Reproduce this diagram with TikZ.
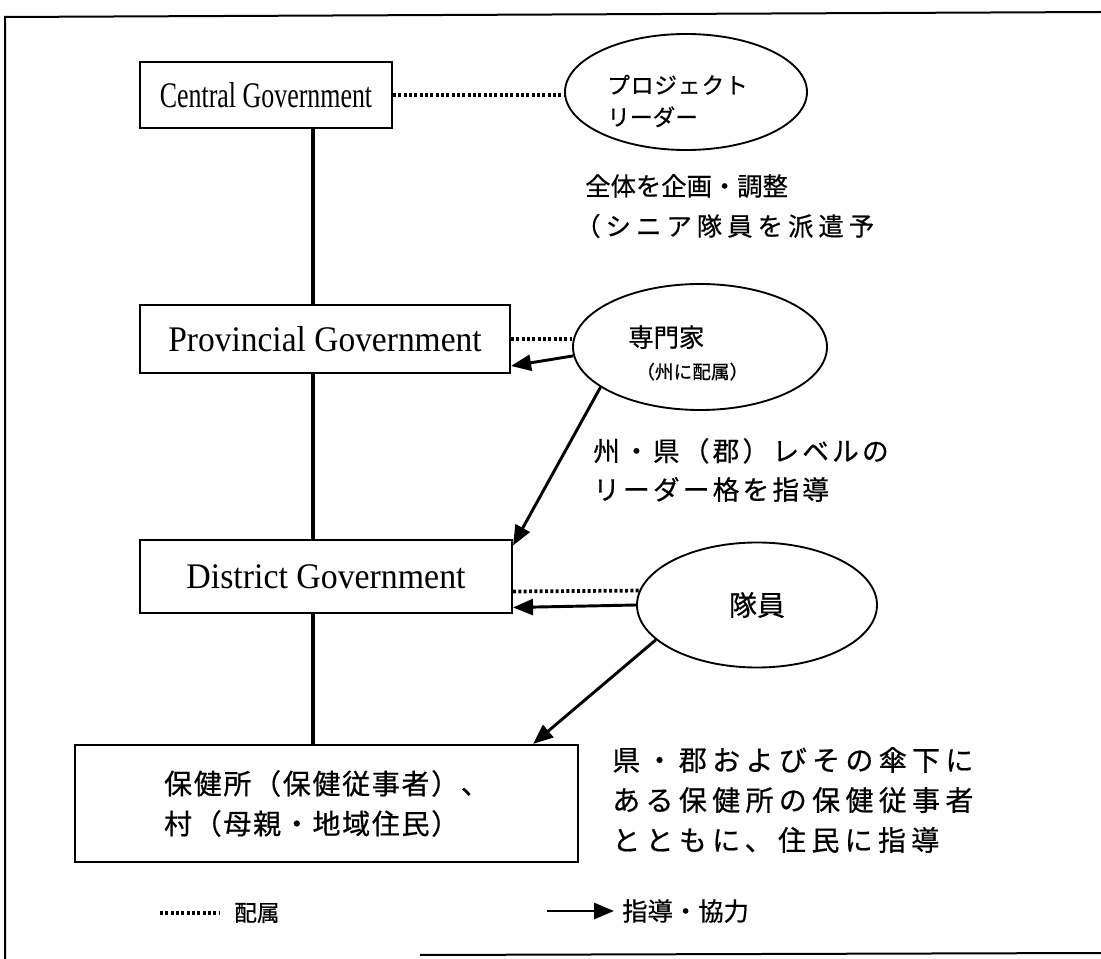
\documentclass[tikz,border=0pt]{standalone}
\usepackage{fontspec}
\usepackage{graphicx}
\setmainfont{Liberation Serif}
\newfontfamily\jp[FakeBold=0.6]{Noto Sans CJK JP}
\usetikzlibrary{arrows.meta,shapes.geometric,calc}
\tikzset{
  box/.style={draw, line width=1.6pt, inner sep=0pt},
  oval/.style={draw, ellipse, line width=1.4pt, inner sep=0pt},
  spine/.style={line width=2.4pt},
  dots/.style={line width=2.8pt, dash pattern=on 2.2pt off 1.8pt},
  guide/.style={line width=2.2pt, -{Triangle[length=15pt,width=12pt]}},
  frameline/.style={line width=1.5pt},
  lat/.style={font=\fontsize{27}{30}\selectfont},
  jtxt/.style={font=\jp\fontsize{19}{22}\selectfont, anchor=west, inner sep=0pt, align=left},
}
\begin{document}
\begin{tikzpicture}[x=0.75pt,y=-0.75pt]
\useasboundingbox (0,0) rectangle (1101,959);
\fill[white] (0,0) rectangle (1101,959);
% frame
\draw[frameline] (5,959) -- (5,17) -- (1101,12);
\draw[frameline] (420,955) -- (1101,953);

% spine position
\coordinate (spine) at (313,0);

% boxes
\node[box, lat, minimum width=189pt, minimum height=49.5pt] (cent) at (266,95) {\scalebox{0.72}[1]{Central Government}};
\node[box, lat, minimum width=277.5pt, minimum height=51pt] (prov) at (325,339) {\scalebox{0.93}[1]{Provincial Government}};
\node[box, lat, minimum width=279pt, minimum height=54.75pt] (dist) at (326,576.5) {\scalebox{0.94}[1]{District Government}};
\node[box, minimum width=377.25pt, minimum height=87.75pt, align=left,
      font=\jp\fontsize{21}{30}\selectfont] (bot) at (326.5,803.5) {\addfontfeatures{LetterSpace=6}保健所（保健従事者）、\\\addfontfeatures{LetterSpace=6}村（母親・地域住民）};

% ellipses
\node[oval, minimum width=181.5pt, minimum height=87pt] (pl) at (686,92) {};
\node[jtxt, font=\jp\fontsize{17}{24}\selectfont] (plt) at (607,101) {\addfontfeatures{LetterSpace=4}プロジェクト\\リーダー};
\node[oval, minimum width=190.5pt, minimum height=94.5pt] (exp) at (700,347) {};
\node[jtxt, font=\jp\fontsize{19}{24}\selectfont] (expt) at (628,353) {専門家\\\hspace*{6pt}{\fontsize{14}{15}\selectfont （州に配属）}};
\node[oval, minimum width=180pt, minimum height=93.75pt, font=\jp\fontsize{21}{24}\selectfont] (tm) at (757,605) {隊員};

% notes
\node[jtxt] (n1a) at (585,186) {全体を企画・調整};
\node[jtxt] (n1b) at (575,226) {\addfontfeatures{LetterSpace=20}（シニア隊員を派遣予};
\node[jtxt, font=\jp\fontsize{20}{29}\selectfont] (n2) at (593,470) {\addfontfeatures{LetterSpace=12}州・県（郡）レベルの\\\addfontfeatures{LetterSpace=12}リーダー格を指導};
\node[jtxt, font=\jp\fontsize{21}{30}\selectfont] (n3) at (612,800) {\addfontfeatures{LetterSpace=19}県・郡およびその傘下に\\\addfontfeatures{LetterSpace=19}ある保健所の保健従事者\\\addfontfeatures{LetterSpace=19}とともに、住民に指導};

% hierarchy line
\draw[spine] (cent.south -| spine) -- (prov.north -| spine);
\draw[spine] (prov.south -| spine) -- (dist.north -| spine);
\draw[spine] (dist.south -| spine) -- (bot.north -| spine);

% assignment (dotted)
\draw[dots] (cent.east) -- (cent.east -| pl.west);
\draw[dots] (prov.east) -- (prov.east -| exp.west);
\draw[dots] ($(dist.east)+(0,15)$) -- (tm.173);

% guidance arrows
\draw[guide] (exp.184) -- ($(prov.east)+(0,27)$);
\draw[guide] (exp.202) -- ($(dist.east)+(0,-31)$);
\draw[guide] (tm.west) -- ($(dist.east)+(0,31)$);
\draw[guide] (tm.199) -- ($(bot.north east)+(-46,0)$);

% legend
\coordinate (lda) at (160,913);
\coordinate (ldb) at (220,913);
\draw[dots, line width=2.4pt] (lda) -- (ldb);
\node[jtxt, font=\jp\fontsize{17}{18}\selectfont] (ldt) at (234,913) {配属};
\coordinate (laa) at (547,911);
\coordinate (lab) at (614,911);
\draw[guide] (laa) -- (lab);
\node[jtxt, font=\jp\fontsize{19}{20}\selectfont] (lat) at (622,911) {指導・協力};
\end{tikzpicture}
\end{document}
